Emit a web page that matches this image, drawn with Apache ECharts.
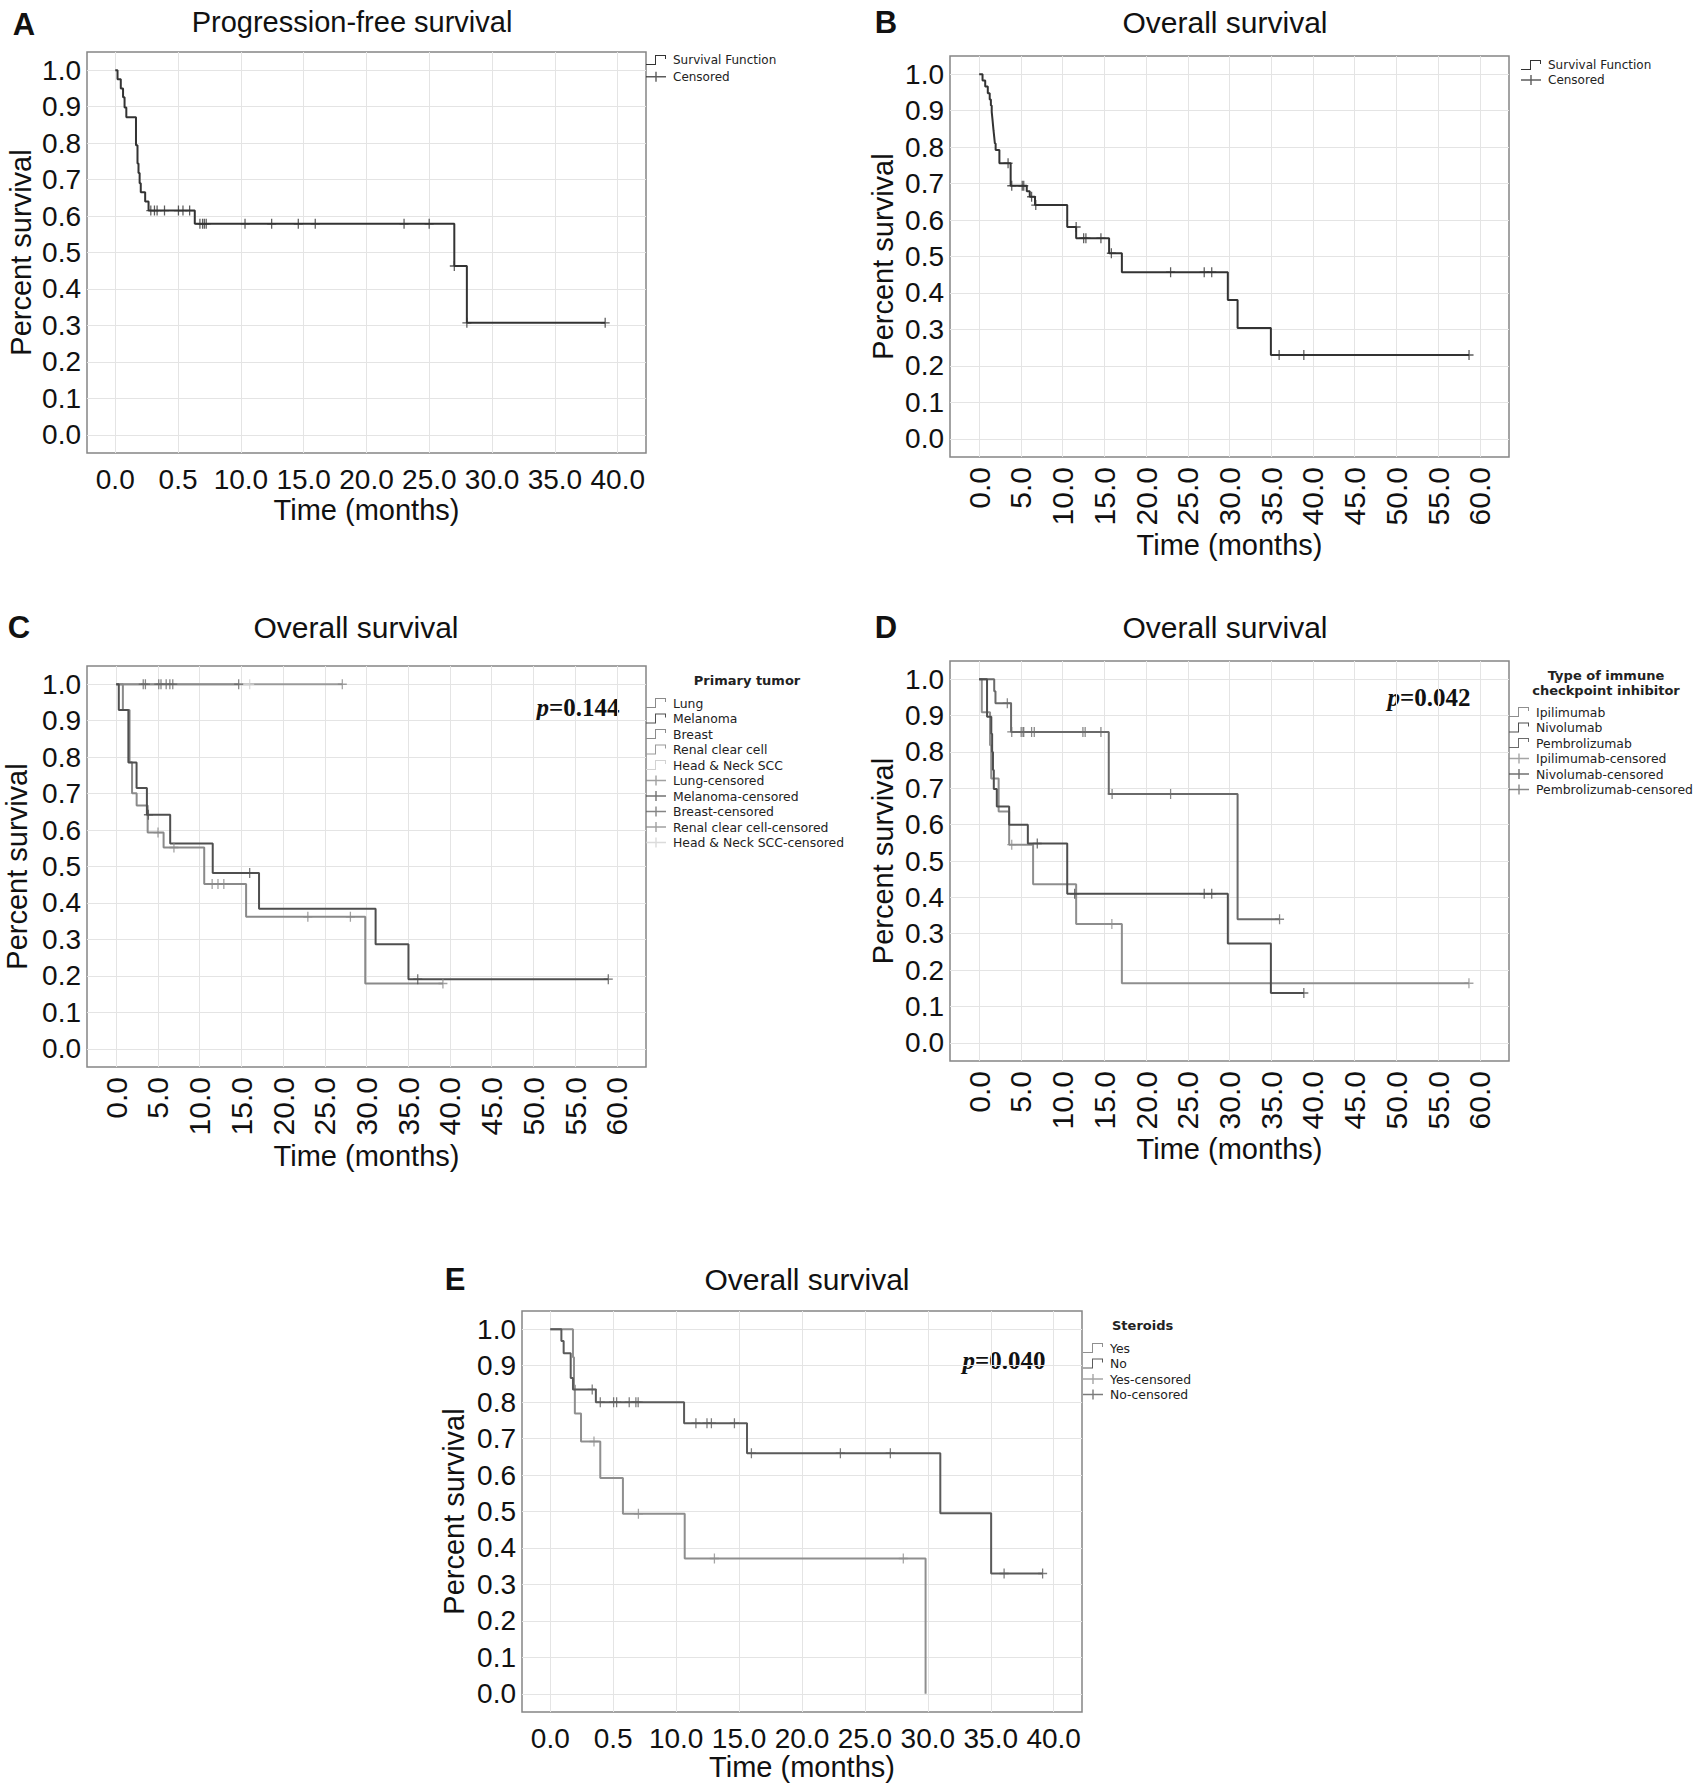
<!DOCTYPE html>
<html>
<head>
<meta charset="utf-8">
<title>Survival curves</title>
<script src="https://cdn.jsdelivr.net/npm/echarts@6/dist/echarts.min.js"></script>
<style>
  html, body { margin: 0; padding: 0; background: #fff; }
  #container { width: 1701px; height: 1784px; }
</style>
</head>
<body>
<div id="container"></div>
<script>
// tick labels
var yTickLabels = ["0.0", "0.1", "0.2", "0.3", "0.4", "0.5", "0.6", "0.7", "0.8", "0.9", "1.0"];
var xTickLabels40 = ["0.0", "0.5", "10.0", "15.0", "20.0", "25.0", "30.0", "35.0", "40.0"];
var xTickLabels60 = ["0.0", "5.0", "10.0", "15.0", "20.0", "25.0", "30.0", "35.0", "40.0", "45.0", "50.0", "55.0", "60.0"];

// A - progression-free survival
var pfsTime = [0, 0.18, 0.44, 0.62, 0.74, 0.88, 1.65, 1.77, 1.85, 1.94, 2.03, 2.38, 2.65, 6.33, 26.99, 27.99, 39.0];
var pfsSurv = [1.0, 0.975, 0.95, 0.926, 0.898, 0.871, 0.794, 0.744, 0.718, 0.69, 0.665, 0.64, 0.615, 0.579, 0.463, 0.307, 0.307];
var pfsCensTime = [2.83, 3.12, 3.33, 3.92, 5.03, 5.39, 5.92, 6.74, 6.95, 7.09, 7.24, 10.33, 12.45, 14.57, 15.92, 22.99, 24.99, 26.99, 27.99, 39.0];
var pfsCensSurv = [0.615, 0.615, 0.615, 0.615, 0.615, 0.615, 0.615, 0.579, 0.579, 0.579, 0.579, 0.579, 0.579, 0.579, 0.579, 0.579, 0.579, 0.463, 0.307, 0.307];

// B - overall survival
var osTime = [0, 0.40, 0.72, 1.03, 1.26, 1.40, 1.50, 1.58, 1.65, 1.72, 1.80, 1.88, 1.97, 2.42, 3.77, 5.70, 6.06, 6.69, 10.55, 11.62, 15.57, 17.10, 29.80, 30.97, 34.96, 58.71];
var osSurv = [1.0, 0.983, 0.966, 0.948, 0.931, 0.914, 0.897, 0.879, 0.862, 0.845, 0.828, 0.810, 0.792, 0.756, 0.694, 0.679, 0.664, 0.641, 0.581, 0.550, 0.509, 0.457, 0.381, 0.304, 0.230, 0.230];
var osCensTime = [3.46, 3.90, 5.16, 5.34, 6.28, 6.78, 11.62, 12.52, 12.79, 14.59, 15.84, 22.94, 26.97, 27.87, 35.95, 38.91, 58.71];
var osCensSurv = [0.756, 0.694, 0.694, 0.694, 0.664, 0.641, 0.581, 0.550, 0.550, 0.550, 0.509, 0.457, 0.457, 0.457, 0.230, 0.230, 0.230];

// C - primary tumor
var lungTime = [0, 0.8, 1.6, 1.9, 2.45, 3.77, 5.68, 10.55, 15.57, 29.85, 39.16];
var lungSurv = [1.0, 0.929, 0.786, 0.701, 0.667, 0.593, 0.552, 0.452, 0.362, 0.179, 0.179];
var lungCensTime = [5.01, 6.92, 11.5, 12.2, 12.9, 22.97, 28.07, 39.16];
var lungCensSurv = [0.593, 0.552, 0.452, 0.452, 0.452, 0.362, 0.362, 0.179];
var melTime = [0, 0.31, 1.46, 2.44, 3.68, 6.47, 11.57, 17.12, 31.09, 35.03, 58.98];
var melSurv = [1.0, 0.929, 0.785, 0.715, 0.642, 0.563, 0.482, 0.384, 0.287, 0.191, 0.191];
var melCensTime = [3.86, 16.0, 36.14, 58.98];
var melCensSurv = [0.642, 0.482, 0.191, 0.191];
var breastTime = [0, 14.68];
var breastSurv = [1.0, 1.0];
var breastCensTime = [3.24, 3.5, 5.1, 5.37, 5.99, 6.43, 6.78, 14.68];
var breastCensSurv = [1.0, 1.0, 1.0, 1.0, 1.0, 1.0, 1.0, 1.0];
var renalTime = [0, 27.1];
var renalSurv = [1.0, 1.0];
var renalCensTime = [27.1];
var renalCensSurv = [1.0];
var hnTime = [0, 16.0];
var hnSurv = [1.0, 1.0];
var hnCensTime = [16.0];
var hnCensSurv = [1.0];

// D - checkpoint inhibitor
var ipiTime = [0, 0.31, 1.3, 1.44, 2.33, 3.59, 6.46, 11.62, 17.10, 58.7];
var ipiSurv = [1.0, 0.909, 0.818, 0.727, 0.636, 0.545, 0.436, 0.327, 0.164, 0.164];
var ipiCensTime = [3.9, 15.9, 58.7];
var ipiCensSurv = [0.545, 0.327, 0.164];
var nivoTime = [0, 0.94, 1.45, 1.55, 1.65, 1.75, 2.11, 3.59, 5.83, 10.55, 29.80, 34.96, 38.91];
var nivoSurv = [1.0, 0.897, 0.85, 0.80, 0.75, 0.698, 0.65, 0.60, 0.548, 0.41, 0.273, 0.137, 0.137];
var nivoCensTime = [6.96, 11.44, 26.97, 27.87, 38.91];
var nivoCensSurv = [0.548, 0.41, 0.41, 0.41, 0.137];
var pemTime = [0, 1.8, 1.95, 3.82, 15.53, 30.97, 36.0];
var pemSurv = [1.0, 0.967, 0.934, 0.855, 0.684, 0.34, 0.34];
var pemCensTime = [3.37, 3.9, 5.03, 5.25, 5.34, 6.28, 6.6, 12.43, 12.7, 14.59, 15.93, 22.94, 36.0];
var pemCensSurv = [0.934, 0.855, 0.855, 0.855, 0.855, 0.855, 0.855, 0.855, 0.855, 0.855, 0.684, 0.684, 0.34];

// E - steroids
var yesTime = [0, 1.80, 1.88, 1.95, 2.44, 3.97, 5.77, 10.68, 29.82];
var yesSurv = [1.0, 0.923, 0.846, 0.769, 0.692, 0.592, 0.494, 0.371, 0.0];
var yesCensTime = [3.47, 7.0, 13.04, 28.05];
var yesCensSurv = [0.692, 0.494, 0.371, 0.371];
var noTime = [0, 0.88, 1.06, 1.62, 1.80, 3.62, 10.63, 15.63, 30.99, 35.03, 39.12];
var noSurv = [1.0, 0.968, 0.934, 0.866, 0.835, 0.80, 0.742, 0.66, 0.495, 0.33, 0.33];
var noCensTime = [3.33, 3.97, 5.03, 5.27, 6.27, 6.80, 6.98, 11.57, 12.45, 12.80, 14.63, 15.98, 23.05, 27.02, 36.06, 39.12];
var noCensSurv = [0.835, 0.80, 0.80, 0.80, 0.80, 0.80, 0.80, 0.742, 0.742, 0.742, 0.742, 0.66, 0.66, 0.66, 0.33, 0.33];

var dom = document.getElementById("container");
var myChart = echarts.init(dom, null, { renderer: "svg" });

var SANS = "Liberation Sans";
var LEG = "DejaVu Sans";
var gridGray = "#e4e4e4";
var stepIcon = "path://M0,9H9V0H20V4H19V1H10V10H0Z";
var plusIcon = "path://M0,4.3H20V5.7H0Z M9.3,0H10.7V10H9.3Z";
var plusMark = "path://M0,4.3H10V5.7H0Z M4.3,0H5.7V10H4.3Z";

// grids: [left, top, width, height]
var grids = [
  [87, 52, 559, 401],
  [950, 56, 559, 401],
  [87, 666, 559, 401],
  [950, 661, 559, 400],
  [522, 1311, 560, 401],
];

function pairs(t, s) {
  return t.map(function (v, i) { return [v, s[i]]; });
}

function cycleColors(n, idx) {
  var arr = [];
  for (var i = 0; i < n; i++) arr.push(i === idx ? gridGray : "rgba(0,0,0,0)");
  return arr;
}

function xFmt(labels) {
  return function (v) {
    var k = v / 5;
    var r = Math.round(k);
    if (Math.abs(k - r) > 1e-6 || r < 0 || r >= labels.length) return "";
    return labels[r];
  };
}

function yFmt(v) {
  var k = v * 10;
  var r = Math.round(k);
  if (Math.abs(k - r) > 1e-6 || r < 0 || r > 10) return "";
  return yTickLabels[r];
}

function xAxis(gi, short, nameGap) {
  var ax = {
    type: "value",
    gridIndex: gi,
    axisLine: { show: false },
    axisTick: { show: false },
    name: "Time (months)",
    nameLocation: "middle",
    nameGap: nameGap,
    nameTextStyle: { fontFamily: SANS, fontSize: 29, color: "#111" },
  };
  if (short) {
    ax.min = -2.25; ax.max = 42.25; ax.interval = 0.25;
    ax.axisLabel = { margin: 12, fontFamily: SANS, fontSize: 28, color: "#111", formatter: xFmt(xTickLabels40) };
    ax.splitLine = { show: true, lineStyle: { width: 1, color: cycleColors(20, 9) } };
  } else {
    ax.min = -3.5; ax.max = 63.5; ax.interval = 0.5;
    ax.axisLabel = { margin: 10, rotate: 90, fontFamily: SANS, fontSize: 30, color: "#111", formatter: xFmt(xTickLabels60) };
    ax.splitLine = { show: true, lineStyle: { width: 1, color: cycleColors(10, 7) } };
  }
  return ax;
}

function yAxis(gi, nameGap) {
  return {
    type: "value",
    gridIndex: gi,
    min: -0.05, max: 1.05, interval: 0.05,
    axisLine: { show: false },
    axisTick: { show: false },
    axisLabel: { margin: 6, fontFamily: SANS, fontSize: 28, color: "#111", formatter: yFmt },
    splitLine: { show: true, lineStyle: { width: 1, color: cycleColors(2, 1) } },
    name: "Percent survival",
    nameLocation: "middle",
    nameGap: nameGap,
    nameTextStyle: { fontFamily: SANS, fontSize: 29, color: "#111" },
  };
}

function km(name, t, s, color, gi) {
  return {
    name: name, type: "line", step: "end", xAxisIndex: gi, yAxisIndex: gi,
    symbol: "none", showSymbol: false, color: color,
    lineStyle: { width: 2, color: color },
    data: pairs(t, s), z: 2, silent: true,
  };
}

function cens(name, t, s, color, gi) {
  return {
    name: name, type: "scatter", xAxisIndex: gi, yAxisIndex: gi,
    symbol: plusMark, symbolSize: [9, 10], color: color,
    itemStyle: { color: color },
    data: pairs(t, s), z: 3, silent: true,
  };
}

function legend(left, top, gap, size, steps, plus) {
  var data = [];
  steps.forEach(function (n) { data.push({ name: n, icon: stepIcon }); });
  plus.forEach(function (n) { data.push({ name: n, icon: plusIcon }); });
  return {
    left: left, top: top, orient: "vertical", padding: 0,
    itemWidth: 24, itemHeight: 10, itemGap: gap, selectedMode: false,
    itemStyle: { borderWidth: 0 },
    textStyle: { fontFamily: LEG, fontSize: size, color: "#222", lineHeight: 14 },
    data: data,
  };
}

function txt(text, x, y, size, opts) {
  opts = opts || {};
  return {
    type: "text", x: x, y: y, silent: true,
    style: {
      text: text, fontFamily: opts.family || SANS, fontSize: size,
      fontWeight: opts.weight || "normal", fill: opts.color || "#111",
      align: opts.align || "center", textAlign: opts.align || "center",
      verticalAlign: "middle", textVerticalAlign: "middle",
      rich: opts.rich,
    },
  };
}

function pval(text, x, y) {
  return txt("{i|p}=" + text, x, y, 25, {
    family: "Liberation Serif", weight: "bold",
    rich: { i: { fontStyle: "italic", fontWeight: "bold", fontFamily: "Liberation Serif", fontSize: 25, fill: "#111" } },
  });
}

var cDark = "#333333";

option = {
  animation: false,
  backgroundColor: "#ffffff",
  grid: grids.map(function (g) {
    return {
      left: g[0], top: g[1], width: g[2], height: g[3],
      show: true, borderColor: "#858585", borderWidth: 1.5,
      backgroundColor: "transparent", containLabel: false, outerBoundsMode: "none",
    };
  }),
  xAxis: [xAxis(0, true, 42), xAxis(1, false, 73), xAxis(2, false, 74), xAxis(3, false, 73), xAxis(4, true, 39)],
  yAxis: [yAxis(0, 52), yAxis(1, 53), yAxis(2, 56), yAxis(3, 53), yAxis(4, 54)],
  legend: [
    legend(646, 53, 2.7, 12, ["Survival Function"], ["Censored"]),
    legend(1521, 58, 1, 12, ["Survival Function"], ["Censored"]),
    legend(646, 696, 1.5, 12.4,
      ["Lung", "Melanoma", "Breast", "Renal clear cell", "Head & Neck SCC"],
      ["Lung-censored", "Melanoma-censored", "Breast-censored", "Renal clear cell-censored", "Head & Neck SCC-censored"]),
    legend(1509, 705, 1.5, 12.4,
      ["Ipilimumab", "Nivolumab", "Pembrolizumab"],
      ["Ipilimumab-censored", "Nivolumab-censored", "Pembrolizumab-censored"]),
    legend(1083, 1341, 1.5, 12.4, ["Yes", "No"], ["Yes-censored", "No-censored"]),
  ],
  series: [
    km("Survival Function", pfsTime, pfsSurv, cDark, 0),
    cens("Censored", pfsCensTime, pfsCensSurv, cDark, 0),
    km("Survival Function", osTime, osSurv, cDark, 1),
    cens("Censored", osCensTime, osCensSurv, cDark, 1),

    km("Renal clear cell", renalTime, renalSurv, "#9a9a9a", 2),
    km("Head & Neck SCC", hnTime, hnSurv, "#d2d2d2", 2),
    km("Breast", breastTime, breastSurv, "#8c8c8c", 2),
    km("Lung", lungTime, lungSurv, "#8a8a8a", 2),
    km("Melanoma", melTime, melSurv, "#4f4f4f", 2),
    cens("Renal clear cell-censored", renalCensTime, renalCensSurv, "#8a8a8a", 2),
    cens("Head & Neck SCC-censored", hnCensTime, hnCensSurv, "#d2d2d2", 2),
    cens("Breast-censored", breastCensTime, breastCensSurv, "#666666", 2),
    cens("Lung-censored", lungCensTime, lungCensSurv, "#8a8a8a", 2),
    cens("Melanoma-censored", melCensTime, melCensSurv, "#4f4f4f", 2),

    km("Ipilimumab", ipiTime, ipiSurv, "#8e8e8e", 3),
    km("Pembrolizumab", pemTime, pemSurv, "#6a6a6a", 3),
    km("Nivolumab", nivoTime, nivoSurv, "#4e4e4e", 3),
    cens("Ipilimumab-censored", ipiCensTime, ipiCensSurv, "#8e8e8e", 3),
    cens("Nivolumab-censored", nivoCensTime, nivoCensSurv, "#4e4e4e", 3),
    cens("Pembrolizumab-censored", pemCensTime, pemCensSurv, "#6a6a6a", 3),

    km("Yes", yesTime, yesSurv, "#8f8f8f", 4),
    km("No", noTime, noSurv, "#5a5a5a", 4),
    cens("Yes-censored", yesCensTime, yesCensSurv, "#8f8f8f", 4),
    cens("No-censored", noCensTime, noCensSurv, "#5a5a5a", 4),
  ],
  graphic: [
    txt("A", 24, 24, 31, { weight: "bold" }),
    txt("B", 886, 22, 31, { weight: "bold" }),
    txt("C", 19, 627, 31, { weight: "bold" }),
    txt("D", 886, 627, 31, { weight: "bold" }),
    txt("E", 455, 1279, 31, { weight: "bold" }),
    txt("Progression-free survival", 352, 22, 29),
    txt("Overall survival", 1225, 22, 30),
    txt("Overall survival", 356, 627, 30),
    txt("Overall survival", 1225, 627, 30),
    txt("Overall survival", 807, 1279, 30),
    pval("0.144", 578, 707),
    pval("0.042", 1429, 697),
    pval("0.040", 1004, 1360),
    txt("Primary tumor", 747, 680, 13, { family: LEG, weight: "bold", color: "#222" }),
    txt("Type of immune", 1606, 675, 13, { family: LEG, weight: "bold", color: "#222" }),
    txt("checkpoint inhibitor", 1606, 690, 13, { family: LEG, weight: "bold", color: "#222" }),
    txt("Steroids", 1112, 1325, 13, { family: LEG, weight: "bold", color: "#222", align: "left" }),
  ],
};

if (option && typeof option === "object") {
  myChart.setOption(option);
}

window.addEventListener("resize", myChart.resize);
</script>
</body>
</html>
